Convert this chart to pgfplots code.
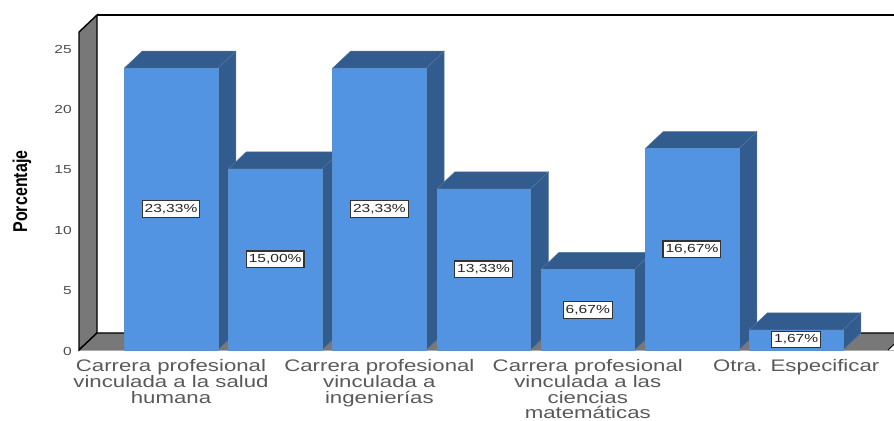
\documentclass[border=0pt]{standalone}
\usepackage{fontspec}
\usepackage{pgfplots}
\usepackage{pgfplotstable}
\pgfplotsset{compat=1.18}
\setmainfont{Liberation Sans}
\newfontfamily\wide[FakeStretch=1.33]{Liberation Sans}
\newfontfamily\narrowb[FakeStretch=0.8]{Liberation Sans Bold}

\definecolor{front}{HTML}{5294E2}
\definecolor{shade}{HTML}{335C8E}
\definecolor{wall}{HTML}{787878}

% x = category position, mid = half the bar height, pct = printed value
\pgfplotstableread{
x mid pct
0 11.67 23.33
1 7.50 15.00
2 11.67 23.33
3 6.67 13.33
4 3.33 6.67
5 8.33 16.67
6 0.87 1.67
}\labels

% center, value: side, top and front face of one bar
\newcommand{\threedbar}[2]{%
  \pgfmathsetmacro\xl{#1-0.449}%
  \pgfmathsetmacro\xr{#1+0.449}%
  \pgfmathsetmacro\xld{\xl+0.173}%
  \pgfmathsetmacro\xrd{\xr+0.173}%
  \pgfmathsetmacro\yd{#2+1.41}%
  \addplot[fill=shade,draw=shade!85!white,line width=0.5bp] coordinates {(\xr,0) (\xrd,1.41) (\xrd,\yd) (\xr,#2)} -- cycle;
  \addplot[fill=shade,draw=shade!85!white,line width=0.5bp] coordinates {(\xl,#2) (\xld,\yd) (\xrd,\yd) (\xr,#2)} -- cycle;
  \addplot[fill=front,draw=front!80!gray,line width=0.5bp] coordinates {(\xl,0) (\xl,#2) (\xr,#2) (\xr,0)} -- cycle;
}

\begin{document}
\begin{tikzpicture}
\useasboundingbox (-79bp,-71bp) rectangle (815bp,350bp);
\begin{axis}[
  scale only axis,
  width=815bp, height=335bp,
  xmin=-0.883, xmax=6.939,
  ymin=0, ymax=27.73,
  clip=false,
  axis x line*=bottom,
  axis y line*=left,
  x axis line style={draw=black!30,line width=1bp,-},
  y axis line style={draw=none},
  tick style={draw=none},
  ytick={0,5,10,15,20,25},
  xtick={0,2,4,6},
  xticklabels={
    Carrera profesional\\vinculada a la salud\\humana,
    Carrera profesional\\vinculada a\\ingenierías,
    Carrera profesional\\vinculada a las\\ciencias\\matemáticas,
    Otra. Especificar},
  /pgf/number format/assume math mode=true,
  yticklabel style={font=\wide\fontsize{11.7bp}{12bp}\selectfont,text=black!70,inner sep=0pt,xshift=-7bp,yshift=-1.2bp},
  xticklabel style={font=\wide\fontsize{16.7bp}{15.6bp}\selectfont,text=black!65,align=center,anchor=north,inner sep=0pt,yshift=-9.5bp},
  ylabel={Porcentaje},
  every axis y label/.style={at={(axis description cs:-0.0699,0.473)},rotate=90,anchor=center,
    font=\narrowb\fontsize{20bp}{20bp}\selectfont},
]
% walls and floor
\addplot[fill=wall,draw=black,line width=1.4bp] coordinates {(-0.883,0) (-0.883,26.32) (-0.710,27.73) (-0.710,1.41)} -- cycle;
\addplot[fill=wall,draw=none] coordinates {(-0.883,0) (-0.710,1.41) (6.939,1.41) (6.939,0.47) (6.881,0)} -- cycle;
\addplot[draw=black,line width=1.4bp] coordinates {(-0.883,0) (-0.710,1.41) (6.939,1.41)};
\addplot[draw=black,line width=1bp] coordinates {(6.939,0.47) (6.881,0)};
\addplot[draw=black,line width=1.4bp] coordinates {(-0.710,27.73) (6.939,27.73)};
% bars, left to right
\threedbar{0}{23.33}
\threedbar{1}{15.00}
\threedbar{2}{23.33}
\threedbar{3}{13.33}
\threedbar{4}{6.67}
\threedbar{5}{16.67}
\threedbar{6}{1.67}
% value labels
\addplot[draw=none,mark=none,
  nodes near coords={\pgfmathprintnumber[fixed,fixed zerofill,precision=2,use comma]{\pgfplotspointmeta}\%},
  nodes near coords style={anchor=center,font=\wide\fontsize{11.7bp}{12bp}\selectfont,text=black!85,
    fill=white,draw=black!80,line width=1.2bp,inner xsep=2.5bp,inner ysep=3.5bp},
  point meta=explicit] table[x=x,y=mid,meta=pct] {\labels};
\end{axis}
\end{tikzpicture}
\end{document}
